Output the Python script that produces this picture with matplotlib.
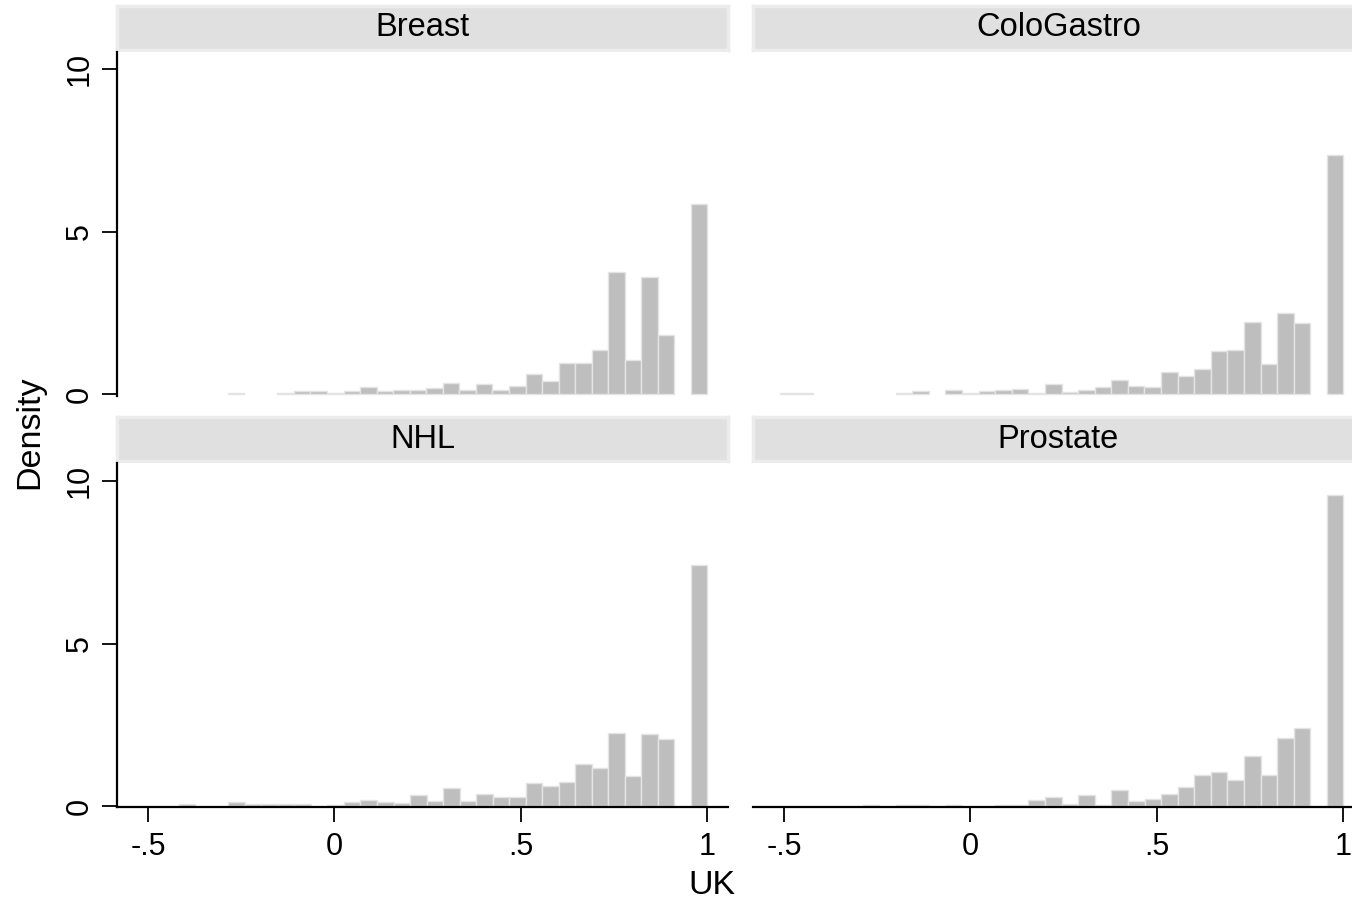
import numpy as np
import matplotlib
matplotlib.use("Agg")
import matplotlib.pyplot as plt

plt.rcParams['font.family'] = ['Liberation Sans', 'DejaVu Sans']

# ---- data (histogram densities, Stata-style equal-width bins ending at 1) ----
panels = ["Breast", "ColoGastro", "NHL", "Prostate"]

breast_lo = -0.286
breast_hi = 1.0
breast_density = [0.03, 0, 0, 0.03, 0.10, 0.10, 0.02, 0.10, 0.21, 0.10,
                  0.14, 0.14, 0.18, 0.35, 0.12, 0.30, 0.12, 0.25, 0.62, 0.39,
                  0.95, 0.95, 1.35, 3.75, 1.05, 3.60, 1.82, 0, 5.84]

colo_lo = -0.5115
colo_hi = 1.0
colo_density = [0.04, 0.04, 0, 0, 0, 0, 0, 0.04, 0.10, 0,
                0.12, 0.02, 0.10, 0.14, 0.17, 0.04, 0.30, 0.07, 0.14, 0.23,
                0.42, 0.25, 0.21, 0.69, 0.57, 0.78, 1.32, 1.35, 2.22, 0.94,
                2.48, 2.20, 0, 7.37]

nhl_lo = -0.4176
nhl_hi = 1.0
nhl_density = [0.06, 0, 0, 0.12, 0.05, 0.05, 0.05, 0.05, 0, 0.04,
               0.12, 0.19, 0.13, 0.08, 0.33, 0.17, 0.56, 0.14, 0.38, 0.29,
               0.29, 0.70, 0.62, 0.75, 1.30, 1.16, 2.25, 0.91, 2.22, 2.06,
               0, 7.41]

prostate_lo = -0.289
prostate_hi = 1.0
prostate_density = [0.03, 0, 0.02, 0.02, 0, 0.03, 0, 0, 0.04, 0.04,
                    0.18, 0.28, 0.07, 0.35, 0.03, 0.48, 0.16, 0.21, 0.38, 0.59,
                    0.97, 1.04, 0.80, 1.53, 0.94, 2.10, 2.41, 0, 9.56]

x_ticks = [-0.5, 0, 0.5, 1]
x_ticklabels = ["-.5", "0", ".5", "1"]
y_ticks = [0, 5, 10]
y_ticklabels = ["0", "5", "10"]
x_label = "UK"
y_label = "Density"

# ---- layout ----
W, H = 1352, 909
fig = plt.figure(figsize=(W / 100, H / 100), dpi=100)

def rect(x0, y0, x1, y1):
    return [x0 / W, 1 - y1 / H, (x1 - x0) / W, (y1 - y0) / H]

cols = [(117, 728), (753, 1364)]
rows = [dict(strip=(6, 50), ax=(52, 396), ylim=(-0.06, 10.53)),
        dict(strip=(417, 461), ax=(463, 807), ylim=(-0.03, 10.56))]

series = [(breast_lo, breast_hi, breast_density),
          (colo_lo, colo_hi, colo_density),
          (nhl_lo, nhl_hi, nhl_density),
          (prostate_lo, prostate_hi, prostate_density)]

bar_face = "#bebebe"
bar_edge = "#e4e4e4"

for i, name in enumerate(panels):
    r, c = divmod(i, 2)
    x0, x1 = cols[c]
    row = rows[r]
    # strip
    sax = fig.add_axes(rect(x0, row["strip"][0], x1, row["strip"][1]))
    sax.set_facecolor("#e0e0e0")
    for sp in sax.spines.values():
        sp.set_edgecolor("#ececec")
        sp.set_linewidth(2.5)
    sax.set_xticks([]); sax.set_yticks([])
    sax.text(0.5, 0.5, name, ha="center", va="center", fontsize=23.5,
             transform=sax.transAxes, color="black")

    ax = fig.add_axes(rect(x0, row["ax"][0], x1, row["ax"][1]))
    lo, hi, dens = series[i]
    dens = np.asarray(dens, dtype=float)
    edges = np.linspace(lo, hi, len(dens) + 1)
    width = edges[1] - edges[0]
    mask = dens > 0
    ax.bar(edges[:-1][mask], dens[mask], width=width, align="edge",
           color=bar_face, edgecolor=bar_edge, linewidth=1.0, zorder=2)
    ax.set_xlim(-0.583, 1.055)
    ax.set_ylim(*row["ylim"])
    ax.spines["top"].set_visible(False)
    ax.spines["right"].set_visible(False)
    for sp in ("left", "bottom"):
        ax.spines[sp].set_linewidth(1.6)
        ax.spines[sp].set_color("black")

    if c == 0:
        ax.set_yticks(y_ticks)
        ax.set_yticklabels(y_ticklabels, rotation=90, va="center")
        ax.tick_params(axis="y", length=11, width=1.3, pad=5, labelsize=22)
    else:
        ax.spines["left"].set_visible(False)
        ax.set_yticks([])

    if r == 1:
        ax.set_xticks(x_ticks)
        ax.set_xticklabels(x_ticklabels)
        ax.tick_params(axis="x", length=11, width=1.3, pad=7, labelsize=22)
    else:
        ax.spines["bottom"].set_visible(False)
        ax.set_xticks([])

fig.text(712 / W, 1 - 886 / H, x_label, ha="center", va="center", fontsize=24.5)
fig.text(30 / W, 1 - 432 / H, y_label, ha="center", va="center", fontsize=24.5,
         rotation=90)

fig.savefig("out.png", dpi=100, facecolor="white")
